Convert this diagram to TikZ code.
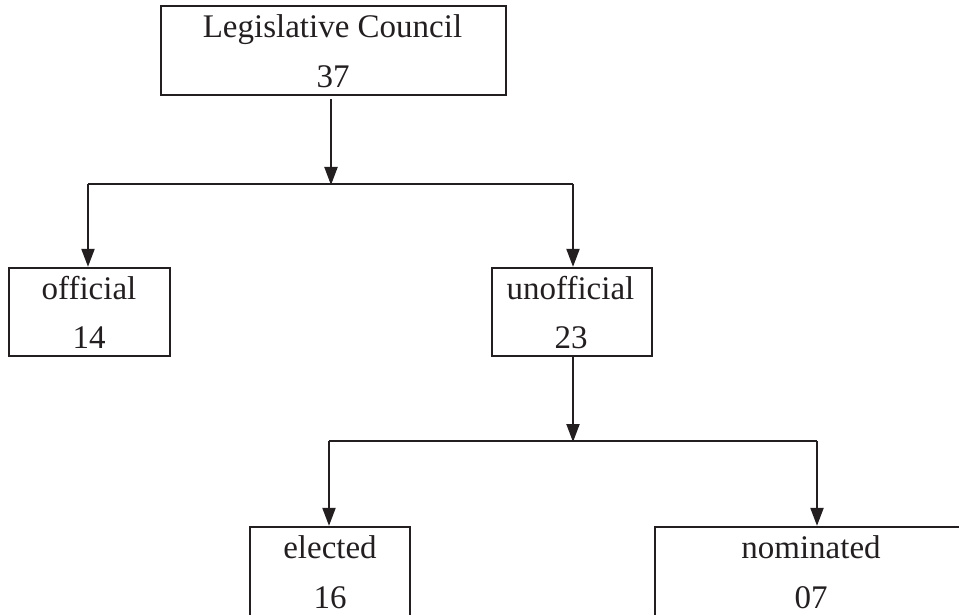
\documentclass[tikz,border=0pt]{standalone}
\usepackage{fontspec}
\setmainfont{Liberation Serif}
\usetikzlibrary{arrows.meta}
\definecolor{ink}{HTML}{231F20}
\tikzset{
  box/.style={draw=ink, line width=2.3pt, rectangle, inner sep=0pt},
  lbl/.style={anchor=base, inner sep=0pt, text=ink, font=\fontsize{33}{40}\selectfont},
  conn/.style={draw=ink, line width=2.1pt},
  arr/.style={conn, -{Triangle[length=18pt,width=13pt]}},
}
\begin{document}
\begin{tikzpicture}[x=1pt,y=-1pt]
\useasboundingbox (0,0) rectangle (959,615);
% boxes
\node[box, minimum width=345pt, minimum height=89pt] (lc) at (333.5,50.5) {};
\node[box, minimum width=161pt, minimum height=88pt] (off) at (89.5,312) {};
\node[box, minimum width=160pt, minimum height=88pt] (unoff) at (572,312) {};
\node[box, minimum width=160pt, minimum height=98pt] (ele) at (330,576) {};
\node[box, minimum width=310pt, minimum height=98pt] (nom) at (810,576) {};
% labels
\node[lbl] (lct) at (332.5,38) {Legislative Council};
\node[lbl] (lcn) at (333,88) {37};
\node[lbl] (offt) at (89,299) {official};
\node[lbl] (offn) at (89,348) {14};
\node[lbl] (unofft) at (570.5,299) {unofficial};
\node[lbl] (unoffn) at (571,348) {23};
\node[lbl] (elet) at (330,558) {elected};
\node[lbl] (elen) at (330,608) {16};
\node[lbl] (nomt) at (811,558) {nominated};
\node[lbl] (nomn) at (811,608) {07};
% junctions
\coordinate (j1) at (331,184);
\coordinate (j1l) at (88,184);
\coordinate (j1r) at (573,184);
\coordinate (j2) at (573,441);
\coordinate (j2l) at (329,441);
\coordinate (j2r) at (817,441);
% connectors
\draw[arr, shorten <=3pt] (lc.south -| j1) -- ([yshift=-1pt]j1);
\draw[conn] (j1l) -- (j1r);
\draw[arr] (j1l) -- (off.north -| j1l);
\draw[arr] (j1r) -- (unoff.north -| j1r);
\draw[arr] (unoff.south -| j2) -- ([yshift=-1pt]j2);
\draw[conn] (j2l) -- (j2r);
\draw[arr] (j2l) -- (ele.north -| j2l);
\draw[arr] (j2r) -- (nom.north -| j2r);
\end{tikzpicture}
\end{document}
